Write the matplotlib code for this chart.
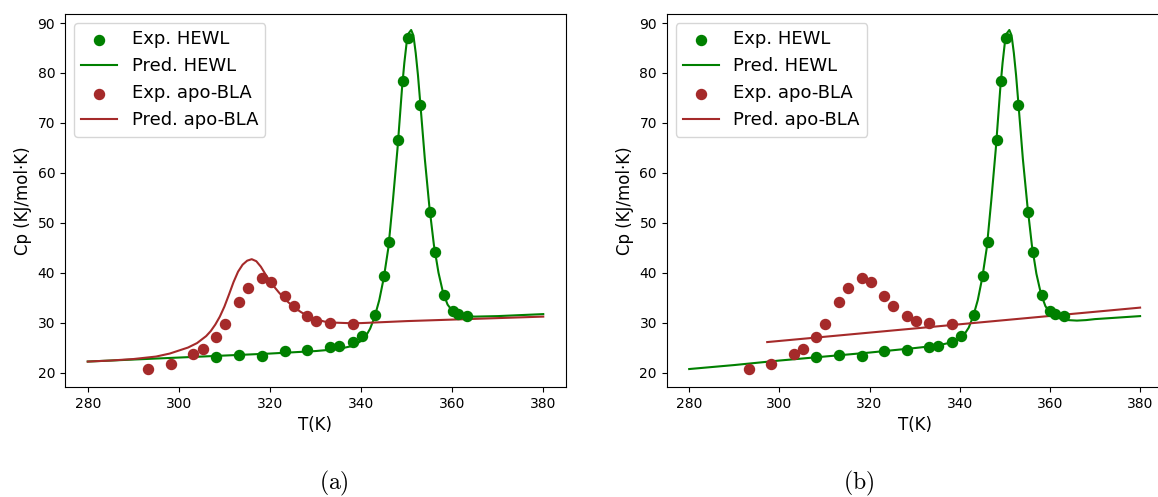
import matplotlib.pyplot as plt

# Dane eksperymentalne (wspolne dla obu paneli)
t_hewl = [308.1, 313.2, 318.3, 323.2, 328.2, 333.2, 335.2, 338.2, 340.2, 343.1, 345.1,
          346.2, 348.2, 349.1, 350.2, 353.0, 355.2, 356.2, 358.2, 360.1, 361.2, 363.2]
cp_hewl = [23.1, 23.6, 23.3, 24.3, 24.6, 25.1, 25.3, 26.2, 27.4, 31.6, 39.3,
           46.2, 66.6, 78.3, 87.0, 73.6, 52.1, 44.2, 35.5, 32.3, 31.8, 31.3]

t_bla = [293.2, 298.2, 303.2, 305.3, 308.1, 310.1, 313.2, 315.2, 318.3, 320.3, 323.2,
         325.2, 328.2, 330.2, 333.2, 338.2]
cp_bla = [20.7, 21.8, 23.8, 24.7, 27.1, 29.7, 34.2, 36.9, 38.9, 38.1, 35.4,
          33.4, 31.4, 30.4, 30.0, 29.8]

# Krzywe przewidywane - panel (a)
t_pred_hewl_a = [280, 290, 300, 310, 320, 330, 335, 338, 340, 341, 342, 343, 344, 345, 346,
                 347, 348, 349, 349.5, 350, 350.5, 351, 351.5, 352, 352.5, 353, 354, 355,
                 356, 357, 358, 359, 360, 361, 362, 363, 365, 370, 375, 380]
cp_pred_hewl_a = [22.2, 22.6, 23.0, 23.4, 23.8, 24.3, 24.7, 25.3, 26.3, 27.2, 28.8, 31.2, 34.5,
                  39.0, 45.0, 54.5, 64.8, 77.0, 82.0, 86.0, 88.0, 88.6, 87.5, 84.0, 79.5,
                  74.0, 62.8, 53.2, 45.5, 40.0, 36.0, 33.6, 32.4, 31.8, 31.5, 31.3, 31.2,
                  31.3, 31.5, 31.7]

t_pred_bla_a = [280, 285, 290, 295, 298, 300, 302, 304, 306, 307, 308, 309, 310, 311, 312,
                313, 314, 315, 316, 317, 318, 319, 320, 321, 322, 323, 324, 325, 326, 327,
                328, 330, 332, 334, 337, 340, 350, 360, 370, 380]
cp_pred_bla_a = [22.2, 22.4, 22.7, 23.2, 23.8, 24.4, 25.0, 25.9, 27.3, 28.3, 29.6, 31.2, 33.2,
                 35.6, 38.1, 40.2, 41.6, 42.4, 42.7, 42.3, 41.2, 39.7, 38.3, 37.1, 36.0,
                 35.0, 34.1, 33.3, 32.6, 32.0, 31.5, 30.7, 30.2, 30.0, 29.9, 29.9, 30.3,
                 30.6, 30.9, 31.2]

# Krzywe przewidywane - panel (b)
t_pred_hewl_b = [280, 290, 300, 310, 320, 330, 335, 338, 340, 341, 342, 343, 344, 345, 346,
                 347, 348, 349, 349.5, 350, 350.5, 351, 351.5, 352, 352.5, 353, 354, 355,
                 356, 357, 358, 359, 360, 361, 362, 364, 366, 368, 370, 375, 380]
cp_pred_hewl_b = [20.7, 21.5, 22.4, 23.2, 24.0, 24.9, 25.4, 26.0, 26.8, 27.6, 29.0, 31.3,
                  34.5, 39.0, 45.0, 54.5, 64.8, 77.0, 82.0, 86.0, 88.0, 88.6, 87.5, 84.0,
                  79.5, 74.0, 62.8, 53.5, 45.5, 39.8, 35.8, 33.3, 32.0, 31.3, 30.9, 30.5,
                  30.4, 30.5, 30.7, 31.0, 31.3]

t_pred_bla_b = [297.3, 380]
cp_pred_bla_b = [26.1, 33.0]

plt.rcParams['mathtext.fontset'] = 'cm'

fig = plt.figure(figsize=(11.58, 4.97), dpi=100)
ax_a = fig.add_axes([0.0561, 0.2213, 0.4327, 0.7505])
ax_b = fig.add_axes([0.5757, 0.2213, 0.4283, 0.7505])

panele = [
    (ax_a, t_pred_hewl_a, cp_pred_hewl_a, t_pred_bla_a, cp_pred_bla_a),
    (ax_b, t_pred_hewl_b, cp_pred_hewl_b, t_pred_bla_b, cp_pred_bla_b),
]

for ax, th, ch, tb, cb in panele:
    ax.scatter(t_hewl, cp_hewl, s=52, color='green', label='Exp. HEWL', zorder=3)
    ax.plot(th, ch, color='green', lw=1.5, label='Pred. HEWL')
    ax.scatter(t_bla, cp_bla, s=52, color='brown', label='Exp. apo-BLA', zorder=3)
    ax.plot(tb, cb, color='brown', lw=1.5, label='Pred. apo-BLA')
    ax.set_xlim(275, 385)
    ax.set_ylim(17.1, 91.8)
    ax.set_xticks([280, 300, 320, 340, 360, 380])
    ax.set_yticks([20, 30, 40, 50, 60, 70, 80, 90])
    ax.set_xlabel('T(K)', fontsize=12)
    ax.set_ylabel('Cp (KJ/mol·K)', fontsize=12)
    ax.legend(loc='upper left', fontsize=13)

fig.text(0.288, 0.028, r'$\mathrm{(a)}$', fontsize=17, ha='center', va='center')
fig.text(0.741, 0.028, r'$\mathrm{(b)}$', fontsize=17, ha='center', va='center')

fig.savefig('out.png', dpi=100)
